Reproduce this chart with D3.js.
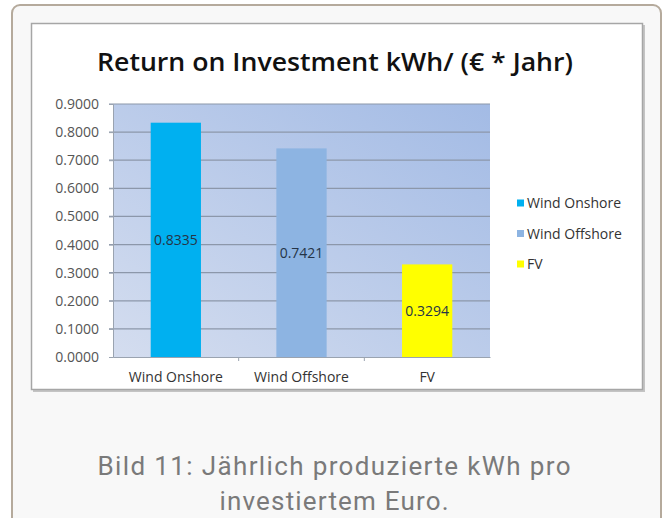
<!DOCTYPE html>
<html>
<head>
<meta charset="utf-8">
<script src="https://cdn.jsdelivr.net/npm/d3@7"></script>
<style>
  body { margin: 0; background: #fff; }
  svg { display: block; }
</style>
</head>
<body>
<svg id="chart" width="666" height="518"></svg>
<script>
// data
var categories = ["Wind Onshore", "Wind Offshore", "FV"];
var values = [0.8335, 0.7421, 0.3294];
var colors = ["#00b0f0", "#8db4e2", "#ffff00"];
var yTicks = [0, 0.1, 0.2, 0.3, 0.4, 0.5, 0.6, 0.7, 0.8, 0.9];
var title = "Return on Investment kWh/ (€ * Jahr)";
var caption = ["Bild 11: Jährlich produzierte kWh pro", "investiertem Euro."];

var svg = d3.select("#chart");
var font = "'Open Sans', sans-serif";

// outer card
svg.append("rect")
    .attr("x", 12).attr("y", 5)
    .attr("width", 649).attr("height", 540)
    .attr("rx", 8).attr("ry", 8)
    .attr("fill", "#f8f8f8")
    .attr("stroke", "#b5aa9c")
    .attr("stroke-width", 2);

// inner chart box, with a small shadow
svg.append("rect")
    .attr("x", 33).attr("y", 25)
    .attr("width", 612).attr("height", 367)
    .attr("fill", "#c4c4c4");
svg.append("rect")
    .attr("x", 31.5).attr("y", 23.5)
    .attr("width", 611).attr("height", 366)
    .attr("fill", "#ffffff")
    .attr("stroke", "#a6a6a6")
    .attr("stroke-width", 1.5);

var defs = svg.append("defs");
var grad = defs.append("linearGradient")
    .attr("id", "plotbg")
    .attr("x1", "0%").attr("y1", "100%")
    .attr("x2", "100%").attr("y2", "0%");
grad.append("stop").attr("offset", "0%").attr("stop-color", "#d4ddef");
grad.append("stop").attr("offset", "100%").attr("stop-color", "#a3bbe5");

var plot = { left: 113, right: 490, top: 104, bottom: 357 };

var x = d3.scaleBand()
    .domain(categories)
    .range([plot.left, plot.right])
    .paddingInner(0.6)
    .paddingOuter(0.3);

var y = d3.scaleLinear()
    .domain([0, 0.9])
    .range([plot.bottom, plot.top]);

// title
svg.append("text")
    .attr("x", 335).attr("y", 71)
    .attr("text-anchor", "middle")
    .attr("font-family", font)
    .attr("font-weight", 600)
    .attr("font-size", 25)
    .attr("textLength", 476)
    .attr("lengthAdjust", "spacingAndGlyphs")
    .attr("fill", "#111")
    .text(title);

// plot background
svg.append("rect")
    .attr("x", plot.left).attr("y", plot.top)
    .attr("width", plot.right - plot.left)
    .attr("height", plot.bottom - plot.top)
    .attr("fill", "url(#plotbg)");

// gridlines
svg.append("g")
    .selectAll("line")
    .data(yTicks.filter(function (d) { return d > 0; }))
    .enter()
    .append("line")
    .attr("x1", plot.left - 4).attr("x2", plot.right)
    .attr("y1", function (d) { return y(d); })
    .attr("y2", function (d) { return y(d); })
    .attr("stroke", "#8c97aa")
    .attr("stroke-width", 1.2);

// bars
svg.append("g")
    .selectAll("rect")
    .data(values)
    .enter()
    .append("rect")
    .attr("x", function (d, i) { return x(categories[i]); })
    .attr("y", function (d) { return y(d); })
    .attr("width", x.bandwidth())
    .attr("height", function (d) { return y(0) - y(d); })
    .attr("fill", function (d, i) { return colors[i]; });

// value labels
svg.append("g")
    .selectAll("text")
    .data(values)
    .enter()
    .append("text")
    .attr("x", function (d, i) { return x(categories[i]) + x.bandwidth() / 2; })
    .attr("y", function (d) { return (y(d) + y(0)) / 2 + 5; })
    .attr("text-anchor", "middle")
    .attr("font-family", font)
    .attr("font-size", 14)
    .attr("fill", "#253447")
    .text(function (d) { return d.toFixed(4); });

// y axis
var yAxis = svg.append("g")
    .attr("transform", "translate(" + plot.left + ",0)")
    .call(d3.axisLeft(y).tickValues(yTicks).tickSize(4).tickPadding(10)
        .tickFormat(d3.format(".4f")));
yAxis.select(".domain").attr("stroke", "#9aa3b0");
yAxis.selectAll(".tick line").attr("stroke", "#9aa3b0");
yAxis.selectAll("text")
    .attr("font-family", font)
    .attr("font-size", 14)
    .attr("fill", "#555");

// x axis
var xAxis = svg.append("g")
    .attr("transform", "translate(0," + plot.bottom + ")")
    .call(d3.axisBottom(x).tickSize(0).tickPadding(15));
xAxis.select(".domain").attr("stroke", "#9aa3b0");
xAxis.selectAll("text")
    .attr("font-family", font)
    .attr("font-size", 14)
    .attr("fill", "#333");

// category separators on x axis
svg.append("g")
    .selectAll("line")
    .data(categories.slice(1))
    .enter()
    .append("line")
    .attr("x1", function (d) { return x(d) - x.step() * x.paddingInner() / 2; })
    .attr("x2", function (d) { return x(d) - x.step() * x.paddingInner() / 2; })
    .attr("y1", plot.bottom).attr("y2", plot.bottom + 4)
    .attr("stroke", "#9aa3b0");

// legend
var legend = svg.append("g")
    .selectAll("g")
    .data(categories)
    .enter()
    .append("g")
    .attr("transform", function (d, i) { return "translate(517," + (203 + i * 30.5) + ")"; });
legend.append("rect")
    .attr("x", 0).attr("y", -3.5)
    .attr("width", 7).attr("height", 7)
    .attr("fill", function (d, i) { return colors[i]; });
legend.append("text")
    .attr("x", 10).attr("y", 5)
    .attr("font-family", font)
    .attr("font-size", 14)
    .attr("fill", "#333")
    .text(function (d) { return d; });

// caption
var capWidths = [473, 229];
svg.append("g")
    .selectAll("text")
    .data(caption)
    .enter()
    .append("text")
    .attr("x", 334)
    .attr("y", function (d, i) { return 475 + i * 35; })
    .attr("text-anchor", "middle")
    .attr("font-family", "Roboto, sans-serif")
    .attr("font-size", 26)
    .attr("textLength", function (d, i) { return capWidths[i]; })
    .attr("lengthAdjust", "spacing")
    .attr("fill", "#7a7a7a")
    .text(function (d) { return d; });
</script>
</body>
</html>
